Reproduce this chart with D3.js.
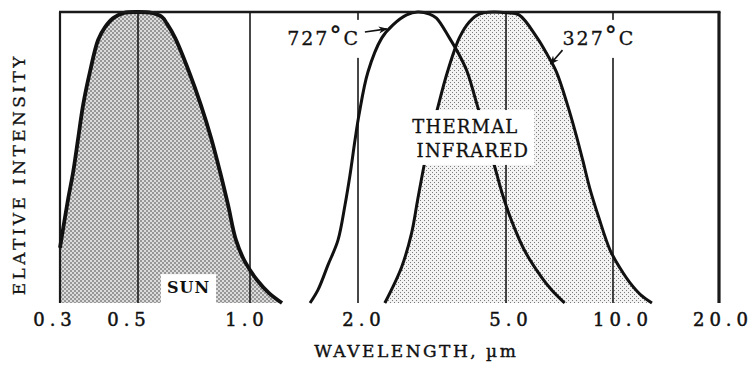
<!DOCTYPE html>
<html><head><meta charset="utf-8">
<script src="https://cdn.jsdelivr.net/npm/d3@7"></script>
<style>body{margin:0;background:#fff}svg{display:block}</style>
</head><body><svg id="c" width="752" height="370"></svg>
<script>
// ---- data ----
const tickValues = [0.3, 0.5, 1.0, 2.0, 5.0, 10.0, 20.0];
const tickLabels = ["0.3", "0.5", "1.0", "2.0", "5.0", "10.0", "20.0"];

const sunWave      = [0.30, 0.316, 0.327, 0.338, 0.349, 0.365, 0.385, 0.403, 0.425, 0.456, 0.50, 0.544, 0.580, 0.598, 0.629, 0.686, 0.738, 0.786, 0.831, 0.873, 0.917, 0.970, 1.046, 1.130, 1.228];
const sunIntensity = [0.19, 0.354, 0.45, 0.567, 0.68, 0.794, 0.904, 0.948, 0.979, 0.997, 1.0, 0.997, 0.983, 0.96, 0.911, 0.794, 0.68, 0.567, 0.45, 0.337, 0.216, 0.141, 0.079, 0.034, 0.0];

const t727Wave      = [1.470, 1.547, 1.650, 1.759, 1.840, 1.900, 1.962, 2.012, 2.127, 2.318, 2.480, 2.703, 2.893, 3.114, 3.251, 3.522, 3.745, 3.934, 4.183, 4.341, 4.504, 4.673, 4.879, 5.16, 5.63, 6.29, 6.76, 7.31];
const t727Intensity = [0.0, 0.045, 0.131, 0.216, 0.337, 0.44, 0.56, 0.646, 0.794, 0.911, 0.955, 0.99, 1.0, 0.993, 0.979, 0.911, 0.852, 0.794, 0.68, 0.612, 0.536, 0.464, 0.378, 0.289, 0.182, 0.089, 0.041, 0.0];

const t327Wave      = [2.361, 2.621, 2.788, 2.893, 3.020, 3.133, 3.251, 3.479, 3.745, 3.983, 4.235, 4.645, 5.03, 5.44, 6.12, 6.54, 6.93, 7.45, 7.85, 8.22, 8.60, 9.13, 9.81, 10.47, 11.18, 12.01, 12.9];
const t327Intensity = [0.0, 0.124, 0.241, 0.354, 0.481, 0.577, 0.655, 0.794, 0.911, 0.966, 0.993, 1.0, 0.997, 0.99, 0.911, 0.852, 0.794, 0.68, 0.584, 0.491, 0.395, 0.292, 0.182, 0.120, 0.069, 0.027, 0.0];

const xTitle = "WAVELENGTH, µm";
const yTitle = "ELATIVE INTENSITY";

// ---- layout ----
const gridPx = [60, 138, 250, 358, 506, 613, 719];
const tickLabelNudge = [-8, -12, -6, 3, 2, 7, 1];
const FONT = "'DejaVu Serif', 'Liberation Serif', serif";

const svg = d3.select("#c");
svg.append("rect").attr("width", 752).attr("height", 370).attr("fill", "#fff");

const x = d3.scaleLog().domain(tickValues).range(gridPx);
const y = d3.scaleLinear().domain([0, 1]).range([303, 12]);

// patterns
const defs = svg.append("defs");
const pSun = defs.append("pattern").attr("id", "sunDots").attr("patternUnits", "userSpaceOnUse")
  .attr("width", 4).attr("height", 4);
pSun.append("rect").attr("width", 4).attr("height", 4).attr("fill", "#dcdcdc");
pSun.append("rect").attr("width", 2).attr("height", 2).attr("fill", "#979797");
pSun.append("rect").attr("x", 2).attr("y", 2).attr("width", 2).attr("height", 2).attr("fill", "#979797");

const pIr = defs.append("pattern").attr("id", "irDots").attr("patternUnits", "userSpaceOnUse")
  .attr("width", 4).attr("height", 4);
pIr.append("rect").attr("width", 4).attr("height", 4).attr("fill", "#f3f3f3");
pIr.append("rect").attr("width", 1).attr("height", 1).attr("fill", "#7a7a7a");
pIr.append("rect").attr("x", 2).attr("y", 2).attr("width", 1).attr("height", 1).attr("fill", "#7a7a7a");

const mk = defs.append("marker").attr("id", "arr").attr("viewBox", "0 0 10 10")
  .attr("refX", 9).attr("refY", 5).attr("markerWidth", 9).attr("markerHeight", 9)
  .attr("markerUnits", "userSpaceOnUse").attr("orient", "auto");
mk.append("path").attr("d", "M0,1 L10,5 L0,9 L3,5 Z").attr("fill", "#111");

const sun = d3.zip(sunWave, sunIntensity);
const c727 = d3.zip(t727Wave, t727Intensity);
const c327 = d3.zip(t327Wave, t327Intensity);

const curve = d3.curveCatmullRom.alpha(0.5);
const area = d3.area().x(d => x(d[0])).y0(y(0)).y1(d => y(d[1])).curve(curve);
const line = d3.line().x(d => x(d[0])).y(d => y(d[1])).curve(curve);

// fills
svg.append("path").attr("d", area(sun)).attr("fill", "url(#sunDots)");
svg.append("path").attr("d", area(c327)).attr("fill", "url(#irDots)");

// vertical grid lines
svg.append("g").selectAll("line").data(tickValues).join("line")
  .attr("x1", d => x(d)).attr("x2", d => x(d))
  .attr("y1", y(0)).attr("y2", y(1))
  .attr("stroke", "#1a1a1a")
  .attr("stroke-width", (d, i) => i === 0 ? 2.2 : (i === tickValues.length - 1 ? 3.2 : 1.6));

// curves
svg.append("path").attr("d", line(sun)).attr("fill", "none").attr("stroke", "#111").attr("stroke-width", 3.8).attr("stroke-linejoin", "round");
svg.append("path").attr("d", line(c727)).attr("fill", "none").attr("stroke", "#111").attr("stroke-width", 3).attr("stroke-linejoin", "round");
svg.append("path").attr("d", line(c327)).attr("fill", "none").attr("stroke", "#111").attr("stroke-width", 3).attr("stroke-linejoin", "round");

// boxed label helper
function boxedText(g, padX, padTop, padBot) {
  const b = g.node().getBBox();
  g.insert("rect", ":first-child").attr("x", b.x - padX).attr("y", b.y - padTop)
    .attr("width", b.width + 2 * padX).attr("height", b.height + padTop + padBot).attr("fill", "#fff");
}
function ink(sel, w) { return sel.attr("stroke", "#111").attr("stroke-width", w); }

// SUN
const gSun = svg.append("g");
gSun.append("text").attr("x", x(0.598)).attr("y", y(0.034))
  .attr("font-family", FONT).attr("font-size", 16).attr("font-weight", "bold")
  .attr("letter-spacing", 1).attr("fill", "#111").text("SUN");
boxedText(gSun, 6, 4, 6);

// THERMAL INFRARED
const gTh = svg.append("g");
ink(gTh.append("text").attr("x", x(2.80)).attr("y", y(0.584))
  .attr("font-family", FONT).attr("font-size", 18).attr("letter-spacing", 1.2).attr("fill", "#111").text("THERMAL"), 0.3);
ink(gTh.append("text").attr("x", x(2.875)).attr("y", y(0.502))
  .attr("font-family", FONT).attr("font-size", 18).attr("letter-spacing", 1.2).attr("fill", "#111").text("INFRARED"), 0.3);
boxedText(gTh, 5, 6, 4);

// 727°C
const g7 = svg.append("g");
const t7 = ink(g7.append("text").attr("x", x(2.0) + 2).attr("y", y(0.887)).attr("text-anchor", "end")
  .attr("font-family", FONT).attr("font-size", 19).attr("letter-spacing", 2).attr("fill", "#111"), 0.3);
t7.append("tspan").text("727");
t7.append("tspan").attr("font-size", 24).attr("dy", -1).text("°");
t7.append("tspan").attr("dy", 1).text("C");
boxedText(g7, 3, 2, 8);
svg.append("line").attr("x1", x(2.087)).attr("y1", y(0.931)).attr("x2", x(2.391)).attr("y2", y(0.942))
  .attr("stroke", "#111").attr("stroke-width", 1.6).attr("marker-end", "url(#arr)");

// 327°C
const g3 = svg.append("g");
const t3 = ink(g3.append("text").attr("x", x(7.21)).attr("y", y(0.887))
  .attr("font-family", FONT).attr("font-size", 19).attr("letter-spacing", 2).attr("fill", "#111"), 0.3);
t3.append("tspan").text("327");
t3.append("tspan").attr("font-size", 24).attr("dy", -1).text("°");
t3.append("tspan").attr("dy", 1).text("C");
boxedText(g3, 3, 2, 8);
svg.append("line").attr("x1", x(7.21)).attr("y1", y(0.869)).attr("x2", x(6.67)).attr("y2", y(0.821))
  .attr("stroke", "#111").attr("stroke-width", 1.6).attr("marker-end", "url(#arr)");

// top frame
svg.append("line").attr("x1", x(tickValues[0]) - 1).attr("x2", x(tickValues[tickValues.length - 1]) + 1.5)
  .attr("y1", y(1)).attr("y2", y(1)).attr("stroke", "#1a1a1a").attr("stroke-width", 2.6);

// x axis labels
const ax = svg.append("g").attr("transform", `translate(0,${y(0)})`)
  .call(d3.axisBottom(x).tickValues(tickValues).tickFormat((d, i) => tickLabels[i]).tickSize(0).tickPadding(10));
ax.select(".domain").remove();
ink(ax.selectAll("text").attr("font-family", FONT).attr("font-size", 18).attr("letter-spacing", 5)
  .attr("fill", "#111").attr("dx", (d, i) => 2.5 + tickLabelNudge[i]), 0.5);

// axis titles
ink(svg.append("text").attr("x", 415 + 1.25).attr("y", 357).attr("text-anchor", "middle")
  .attr("font-family", FONT).attr("font-size", 17).attr("letter-spacing", 2.5).attr("fill", "#111").text(xTitle), 0.4);
ink(svg.append("text").attr("transform", "translate(25,176) rotate(-90)").attr("text-anchor", "middle")
  .attr("font-family", FONT).attr("font-size", 17).attr("letter-spacing", 3.4).attr("dx", 1.7)
  .attr("fill", "#111").text(yTitle), 0.3);
</script></body></html>
